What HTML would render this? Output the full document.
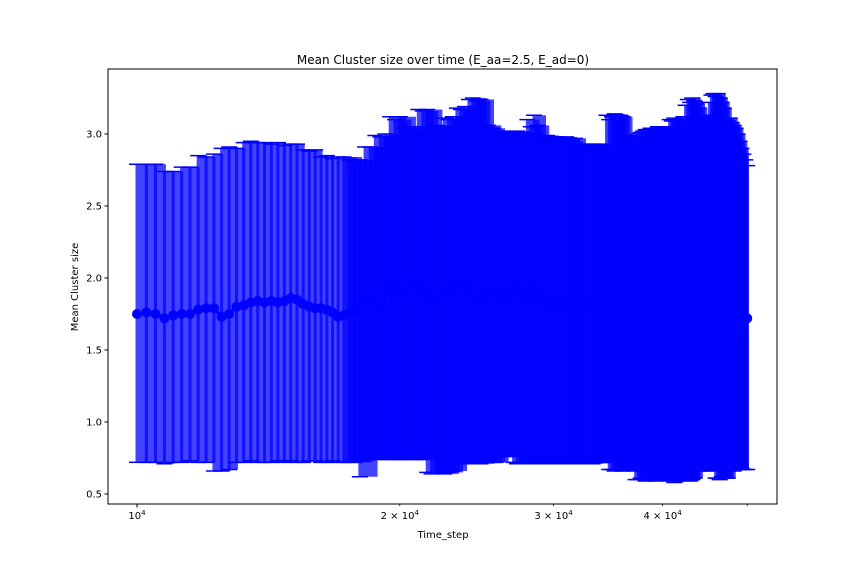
<!DOCTYPE html>
<html><head><meta charset="utf-8"><style>
html,body{margin:0;padding:0;background:#fff;}
svg{display:block;font-family:"DejaVu Sans","Liberation Sans",sans-serif;}
</style></head><body>
<svg id="chart" width="864" height="576" viewBox="0 0 864 576" xmlns="http://www.w3.org/2000/svg">
<rect width="864" height="576" fill="#fff"/>
<g id="marks"></g>
<g id="axes"></g>
<text x="443" y="64" font-size="12" text-anchor="middle">Mean Cluster size over time (E_aa=2.5, E_ad=0)</text>
<text x="443" y="538" font-size="10" text-anchor="middle">Time_step</text>
<text x="0" y="0" font-size="10" text-anchor="middle" transform="translate(78,287) rotate(-90)">Mean Cluster size</text>
</svg>
<script>
const tStart = 10000;
const tStep = 250;
const meanValues = [1.75,1.76,1.75,1.72,1.74,1.75,1.75,1.78,1.79,1.79,
1.73,1.75,1.80,1.81,1.83,1.84,1.83,1.84,1.83,1.84,
1.86,1.85,1.82,1.80,1.79,1.79,1.78,1.76,1.73,1.74,
1.75,1.76,1.78,1.85,1.88,1.80,1.78,1.90,1.96,1.93,
1.87,1.90,1.94,1.97,1.95,1.90,1.86,1.83,1.85,1.88,
1.92,1.90,1.93,1.95,1.96,1.94,1.90,1.86,1.83,1.85,
1.88,1.92,1.90,1.88,1.87,1.87,1.86,1.88,1.90,1.92,
1.90,1.87,1.86,1.89,1.92,1.90,1.87,1.85,1.84,1.83,
1.84,1.82,1.83,1.81,1.82,1.84,1.83,1.82,1.80,1.81,
1.82,1.83,1.81,1.80,1.82,1.83,1.84,1.82,1.85,1.86,
1.85,1.84,1.83,1.82,1.83,1.81,1.80,1.82,1.83,1.82,
1.81,1.80,1.81,1.82,1.82,1.81,1.80,1.81,1.82,1.83,
1.84,1.83,1.82,1.83,1.84,1.85,1.86,1.85,1.84,1.86,
1.88,1.90,1.89,1.90,1.91,1.89,1.87,1.86,1.87,1.86,
1.85,1.90,1.92,1.93,1.92,1.91,1.90,1.88,1.86,1.84,
1.82,1.80,1.79,1.78,1.77,1.76,1.75,1.74,1.73,1.73,1.72];
const upperValues = [2.79,2.79,2.79,2.74,2.74,2.77,2.77,2.85,2.84,2.86,
2.90,2.91,2.90,2.94,2.95,2.94,2.94,2.93,2.94,2.92,
2.93,2.93,2.89,2.88,2.89,2.84,2.85,2.83,2.84,2.84,
2.82,2.81,2.82,2.91,2.91,2.99,2.98,3.00,3.12,3.10,
3.12,3.04,3.03,3.05,3.17,3.16,3.17,3.05,3.06,3.05,
3.11,3.10,3.12,3.18,3.17,3.19,3.24,3.25,3.23,3.24,
3.05,3.06,3.04,3.01,3.00,3.02,3.01,2.99,3.01,3.02,
3.00,3.01,3.10,3.05,3.13,3.06,2.98,2.97,2.99,2.98,
2.96,2.98,2.97,2.96,2.98,2.97,2.95,2.97,2.92,2.91,
2.93,2.92,2.90,2.93,2.92,2.91,2.93,2.92,3.13,3.10,
3.12,3.14,3.11,3.13,3.12,2.98,2.97,2.99,2.98,2.98,
3.00,3.01,3.02,3.03,3.03,3.04,3.03,3.04,3.05,3.04,
3.03,3.05,3.04,3.10,3.09,3.11,3.10,3.08,3.10,3.12,
3.20,3.24,3.22,3.25,3.23,3.21,3.18,3.12,3.11,3.13,
3.12,3.22,3.27,3.28,3.26,3.28,3.25,3.22,3.18,3.10,
3.09,3.11,3.08,3.06,3.04,3.00,2.95,2.90,2.86,2.82,2.78];
const lowerValues = [0.72,0.72,0.72,0.71,0.72,0.72,0.73,0.72,0.72,0.66,
0.66,0.67,0.72,0.72,0.73,0.72,0.72,0.72,0.73,0.72,
0.73,0.72,0.72,0.73,0.73,0.72,0.72,0.73,0.72,0.72,
0.72,0.72,0.62,0.74,0.74,0.75,0.74,0.74,0.75,0.74,
0.74,0.74,0.75,0.74,0.74,0.74,0.65,0.64,0.65,0.65,
0.64,0.65,0.66,0.72,0.72,0.71,0.72,0.72,0.72,0.71,
0.72,0.72,0.72,0.72,0.76,0.76,0.77,0.76,0.72,0.71,
0.72,0.72,0.71,0.72,0.72,0.72,0.71,0.72,0.72,0.72,
0.71,0.72,0.72,0.72,0.71,0.72,0.72,0.72,0.71,0.72,
0.72,0.72,0.72,0.71,0.72,0.72,0.72,0.72,0.72,0.67,
0.67,0.66,0.67,0.67,0.66,0.67,0.67,0.67,0.66,0.60,
0.60,0.61,0.60,0.59,0.60,0.61,0.60,0.59,0.60,0.60,
0.61,0.60,0.60,0.59,0.60,0.58,0.59,0.60,0.60,0.61,
0.60,0.60,0.59,0.60,0.61,0.67,0.66,0.67,0.67,0.66,
0.67,0.67,0.66,0.67,0.61,0.61,0.60,0.62,0.61,0.61,
0.61,0.67,0.67,0.66,0.67,0.67,0.67,0.68,0.67,0.67,0.67];
const yTicks = [0.5,1.0,1.5,2.0,2.5,3.0];
const yTickLabels = ["0.5","1.0","1.5","2.0","2.5","3.0"];
const xTicks = [10000,20000,30000,40000,50000];
const xTickMantissa = ["", "2", "3", "4", ""];

const NS = "http://www.w3.org/2000/svg";
const L = 108, R = 777, T = 69, B = 504;
function xScale(t){ return 137 + 873 * Math.log10(t / 10000); }
function yScale(v){ return 422 - (v - 1.0) * 144; }
function mk(tag, attrs, parent){
  const e = document.createElementNS(NS, tag);
  for (const k in attrs) e.setAttribute(k, attrs[k]);
  parent.appendChild(e); return e;
}
const marks = document.getElementById('marks');
const axes = document.getElementById('axes');
const n = meanValues.length;
const times = [];
for (let i = 0; i < n; i++) times.push(tStart + tStep * i);

// mean line + markers (drawn first; dense bars cover them on the right)
const meanG = mk('g', {}, marks);
let d = '';
for (let i = 0; i < n; i++) d += (i ? 'L' : 'M') + xScale(times[i]).toFixed(1) + ',' + yScale(meanValues[i]).toFixed(1);

// error bars as bands; where points are dense, bands overlap several neighbours
for (let i = 0; i < n; i++) {
  const x = xScale(times[i]);
  const xn = i < n - 1 ? xScale(times[i + 1]) : x;
  const sp = xn - x;
  const ext = (i < n - 1 && sp < 5.6) ? 2 * sp + 2 : 1.5;
  const x0 = x - 1.5, x1 = Math.min(xn + ext, xScale(times[n - 1]) + 1.5);
  const yt = yScale(upperValues[i]), yb = yScale(lowerValues[i]);
  const r = mk('rect', {x:x0, y:yt, width:Math.max(3, x1 - x0), height:yb - yt, fill:'#0000ff', 'fill-opacity':0.74}, marks);
  
  
}
const ml = mk('path', {d:d, fill:'none', stroke:'#0000ff', 'stroke-width':3}, marks);


for (let i = 0; i < n; i++) {
  const p = mk('circle', {cx:xScale(times[i]), cy:yScale(meanValues[i]), r:5, fill:'#0000ff'}, marks);
  
  
}
// caps
for (let i = 0; i < n; i++) {
  const x = xScale(times[i]);
  [upperValues[i], lowerValues[i]].forEach(v => {
    const c = mk('line', {x1:x-8, x2:x+8, y1:yScale(v), y2:yScale(v), stroke:'#0000ff', 'stroke-width':1.5}, marks);
    
    
  });
}
// frame
const fr = mk('rect', {x:L, y:T, width:R-L, height:B-T, fill:'none', stroke:'#000', 'stroke-width':1}, axes);


// y ticks
yTicks.forEach((v, i) => {
  const y = yScale(v);
  const tk = mk('line', {x1:L-3.5, x2:L, y1:y, y2:y, stroke:'#000', 'stroke-width':1}, axes);
  
  
  const tx = mk('text', {x:L-6, y:y+3.5, 'font-size':10, 'text-anchor':'end', fill:'#000'}, axes);
  tx.textContent = yTickLabels[i];
  
  
});
// x ticks
xTicks.forEach((t, i) => {
  const x = xScale(t);
  const major = (t === 10000);
  const tk = mk('line', {x1:x, x2:x, y1:B, y2:B+(major?3.5:2), stroke:'#000', 'stroke-width':major?1:0.8}, axes);
  
  
  if (major || xTickMantissa[i]) {
    const tx = mk('text', {x:x, y:B+15, 'font-size':10, 'text-anchor':'middle', fill:'#000'}, axes);
    const pre = major ? '10' : xTickMantissa[i] + ' \u00d7 10';
    tx.appendChild(document.createTextNode(pre));
    const sup = mk('tspan', {'font-size':7, dy:-4}, tx);
    sup.textContent = '4';
    
    
  }
});
</script>
</body></html>
